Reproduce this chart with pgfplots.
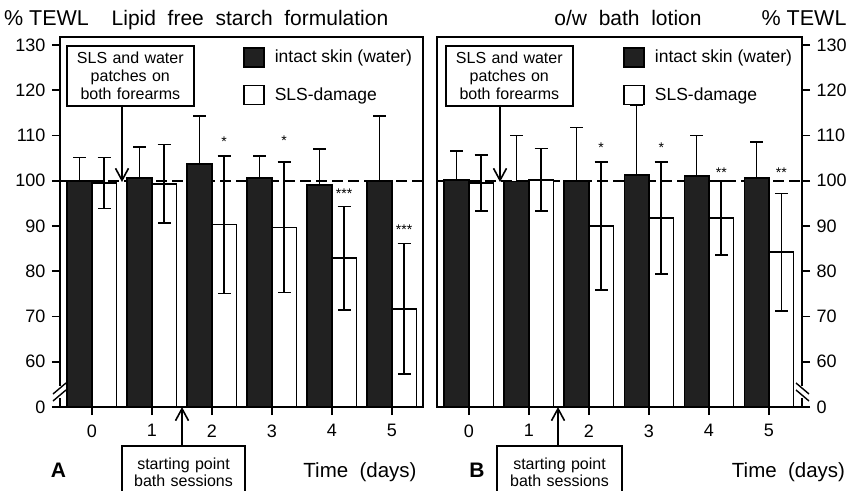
\documentclass[border=0pt]{standalone}
\usepackage{fontspec}
\setmainfont{Liberation Sans}
\usepackage{pgfplots}
\pgfplotsset{compat=1.18}
\usetikzlibrary{arrows.meta}
\definecolor{darkbar}{gray}{0.13}

\pgfplotsset{
  panel/.style={
    scale only axis, height=370pt,
    ymin=50, ymax=131.76,
    ytick={50,60,70,80,90,100,110,120,130},
    yticklabels={0,60,70,80,90,100,110,120,130},
    xtick={0,1,2,3,4,5},
    tick align=outside,
    major tick length=8pt,
    axis line style={line width=1.8pt},
    every tick/.style={line width=1.6pt, black},
    tick label style={font=\fontsize{18}{20}\selectfont},
    xticklabel style={yshift=-6pt},
    /pgf/number format/assume math mode=true,
    clip mode=individual,
    legend image code/.code={\draw[#1,/tikz/.cd,line width=1.6pt] (0pt,-9.5pt) rectangle (20pt,9.5pt);},
    legend style={draw=none, fill=none, inner sep=0pt, anchor=north west,
      font=\fontsize{17.5}{20}\selectfont, row sep=17pt,
      nodes={inner sep=0pt, anchor=west},
      /tikz/every odd column/.append style={column sep=10pt}},
    legend cell align=left,
  },
  darkbars/.style={ybar, bar width=0.41, bar shift=0, draw=black, line width=1.6pt, fill=darkbar},
  whitebars/.style={ybar, bar width=0.41, bar shift=0, draw=black, line width=1.6pt, fill=white},
  /pgfplots/error bars/ebar/.style={error bar style={line width=1.6pt, black, solid},
    error mark options={rotate=90, mark size=6.5pt, line width=1.6pt, black, solid}},
  hundred/.style={black, line width=1.8pt, dash pattern=on 11pt off 5pt, forget plot},
}

\begin{document}
\begin{tikzpicture}
\useasboundingbox (0,0) rectangle (850pt,490pt);

% ---------------- Panel A ----------------
\begin{axis}[panel, at={(60pt,83pt)}, anchor=south west, width=363pt,
  xmin=-0.53, xmax=5.52, xtick pos=left, ytick pos=left,
  yticklabel style={xshift=-3pt},
  legend style={at={(axis cs:2.52,129.6)}}]
\addplot[hundred] coordinates {(-0.53,100) (5.52,100)};
% dark bars: day - 0.205
\addplot[darkbars, error bars/.cd, y dir=plus, y explicit, ebar] coordinates {
  (-0.205,100.0) +- (0,5.1)
  (0.795,100.6) +- (0,6.9)
  (1.795,103.7) +- (0,10.6)
  (2.795,100.6) +- (0,4.9)
  (3.795,99.0)  +- (0,8.0)
  (4.795,100.0) +- (0,14.3)
};
% white bars: day + 0.205
\addplot[whitebars, error bars/.cd, y dir=both, y explicit, ebar] coordinates {
  (0.205,99.5) +- (0,5.6)
  (1.205,99.3) +- (0,8.7)
  (2.205,90.3) +- (0,15.2)
  (3.205,89.7) +- (0,14.4)
  (4.205,82.9) +- (0,11.4)
  (5.205,71.7) +- (0,14.4)
};
\legend{intact skin (water), SLS-damage}
\node[font=\fontsize{14}{14}\selectfont] at (axis cs:2.205,108.6) {*};
\node[font=\fontsize{14}{14}\selectfont] at (axis cs:3.205,108.8) {*};
\node[font=\fontsize{14}{14}\selectfont] at (axis cs:4.205,97.2) {***};
\node[font=\fontsize{14}{14}\selectfont] at (axis cs:5.205,89.1) {***};
\end{axis}

% ---------------- Panel B ----------------
\begin{axis}[panel, at={(437pt,83pt)}, anchor=south west, width=365pt,
  xmin=-0.53, xmax=5.55, xtick pos=left, ytick pos=right, yticklabel pos=right,
  yticklabel style={xshift=3pt},
  legend style={at={(axis cs:2.57,129.6)}}]
\addplot[hundred] coordinates {(-0.53,100) (5.55,100)};
\addplot[darkbars, error bars/.cd, y dir=plus, y explicit, ebar] coordinates {
  (-0.205,100.2) +- (0,6.4)
  (0.795,99.8)  +- (0,10.2)
  (1.795,100.0) +- (0,11.8)
  (2.795,101.3) +- (0,15.3)
  (3.795,101.0) +- (0,9.0)
  (4.795,100.6) +- (0,8.0)
};
\addplot[whitebars, error bars/.cd, y dir=both, y explicit, ebar] coordinates {
  (0.205,99.5)  +- (0,6.2)
  (1.205,100.2) +- (0,6.9)
  (2.205,90.0)  +- (0,14.2)
  (3.205,91.8)  +- (0,12.4)
  (4.205,91.8)  +- (0,8.2)
  (5.205,84.2)  +- (0,13.0)
};
\legend{intact skin (water), SLS-damage}
\node[font=\fontsize{14}{14}\selectfont] at (axis cs:2.205,107.3) {*};
\node[font=\fontsize{14}{14}\selectfont] at (axis cs:3.205,107.3) {*};
\node[font=\fontsize{14}{14}\selectfont] at (axis cs:4.205,101.8) {**};
\node[font=\fontsize{14}{14}\selectfont] at (axis cs:5.205,101.8) {**};
\end{axis}

% ---------------- axis breaks ----------------
\draw[white, line width=4pt] (60pt,92pt) -- (60pt,104pt);
\draw[line width=1.4pt] (53pt,89pt) -- (66pt,100pt);
\draw[line width=1.4pt] (53pt,96pt) -- (66pt,107pt);
\draw[white, line width=4pt] (802pt,92pt) -- (802pt,104pt);
\draw[line width=1.4pt] (796pt,107pt) -- (809pt,96pt);
\draw[line width=1.4pt] (796pt,100pt) -- (809pt,89pt);

% ---------------- titles ----------------
\node[anchor=base, font=\fontsize{21.5}{24}\selectfont] at (46.5pt,464pt) {\%~TEWL};
\node[anchor=base, font=\fontsize{21}{24}\selectfont] at (250pt,464pt) {Lipid~~free~~starch~~formulation};
\node[anchor=base, font=\fontsize{21}{24}\selectfont] at (628pt,464pt) {o/w~~bath~~lotion};
\node[anchor=base east, font=\fontsize{21.5}{24}\selectfont] at (850pt,464pt) {\%~TEWL};

% ---------------- top annotation boxes ----------------
\node[draw, line width=1.6pt, anchor=north west, minimum width=127pt, minimum height=60pt,
  text width=119pt, align=center, inner sep=3pt, font=\fontsize{16}{18}\selectfont]
  at (66pt,445pt) {SLS and water\\patches on\\both forearms};
\draw[line width=1.6pt, -{Straight Barb[length=12pt,width=13pt,line width=1.6pt]}] (122pt,385pt) -- (122pt,308pt);
\node[draw, line width=1.6pt, anchor=north west, minimum width=127pt, minimum height=60pt,
  text width=119pt, align=center, inner sep=3pt, font=\fontsize{16}{18}\selectfont]
  at (445pt,445pt) {SLS and water\\patches on\\both forearms};
\draw[line width=1.6pt, -{Straight Barb[length=12pt,width=13pt,line width=1.6pt]}] (500pt,385pt) -- (500pt,308pt);

% ---------------- bottom annotation boxes ----------------
\node[draw, line width=1.6pt, anchor=north, minimum width=123pt, minimum height=52pt,
  text width=117pt, align=center, inner sep=3pt, font=\fontsize{16}{17}\selectfont]
  at (183.5pt,45pt) {starting point\\bath sessions};
\draw[line width=1.6pt, -{Straight Barb[length=12pt,width=13pt,line width=1.6pt]}] (182pt,45pt) -- (182pt,83pt);
\node[draw, line width=1.6pt, anchor=north, minimum width=125pt, minimum height=52pt,
  text width=119pt, align=center, inner sep=3pt, font=\fontsize{16}{17}\selectfont]
  at (559.5pt,45pt) {starting point\\bath sessions};
\draw[line width=1.6pt, -{Straight Barb[length=12pt,width=13pt,line width=1.6pt]}] (558pt,45pt) -- (558pt,83pt);

% ---------------- bottom labels ----------------
\node[anchor=base, font=\fontsize{21}{24}\selectfont\bfseries] at (58.5pt,13pt) {A};
\node[anchor=base, font=\fontsize{21}{24}\selectfont\bfseries] at (477pt,13pt) {B};
\node[anchor=base, font=\fontsize{20.5}{24}\selectfont] at (360pt,13pt) {Time~~(days)};
\node[anchor=base, font=\fontsize{20.5}{24}\selectfont] at (788.5pt,13pt) {Time~~(days)};
\end{tikzpicture}
\end{document}
